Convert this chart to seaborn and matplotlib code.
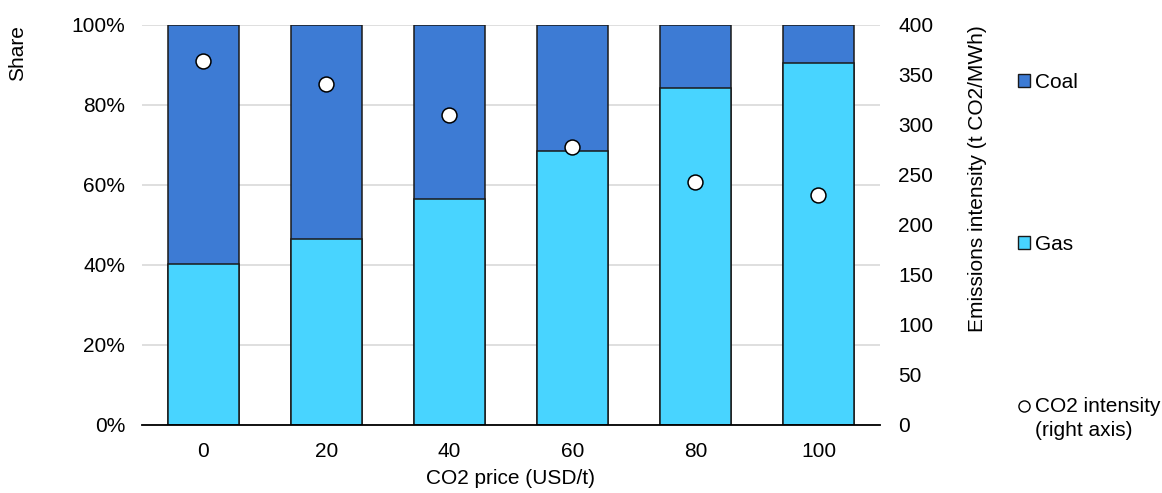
import numpy as np
import pandas as pd
import matplotlib
matplotlib.use("Agg")
import matplotlib.pyplot as plt
import seaborn as sns
from matplotlib.lines import Line2D
from matplotlib.patches import Patch

# ── data ──────────────────────────────────────────────
co2_price = ["0", "20", "40", "60", "80", "100"]
gas_share = [40.2, 46.5, 56.5, 68.6, 84.2, 90.6]
coal_share = [100 - g for g in gas_share]
co2_intensity = [364, 341, 310, 278, 243, 230]

COAL = "#3d7bd4"
GAS = "#48d4ff"
EDGE = "#1a1a1a"
FS = 15

sns.set_theme(style="white")
plt.rcParams["font.family"] = ["Liberation Sans", "DejaVu Sans"]
plt.rcParams["font.size"] = FS

df = pd.DataFrame({"price": co2_price, "gas": gas_share,
                   "total": [g + c for g, c in zip(gas_share, coal_share)],
                   "co2": co2_intensity})

fig = plt.figure(figsize=(11.62, 4.93), dpi=100)
ax = fig.add_axes([0.1222, 0.138, 0.6351, 0.8113])

# stacked bars: full height coal, gas drawn over the bottom part
sns.barplot(data=df, x="price", y="total", color=COAL, width=0.57,
            edgecolor=EDGE, linewidth=1.1, saturation=1, ax=ax)
sns.barplot(data=df, x="price", y="gas", color=GAS, width=0.57,
            edgecolor=EDGE, linewidth=1.1, saturation=1, ax=ax)

ax.set_ylim(0, 100)
ax.set_xlim(-0.5, 5.5)
ax.set_yticks(range(0, 101, 20))
ax.set_yticklabels([f"{v}%" for v in range(0, 101, 20)])
ax.yaxis.grid(True, color="#d9d9d9", linewidth=1.2)
ax.set_axisbelow(True)
for s in ["top", "right", "left"]:
    ax.spines[s].set_visible(False)
ax.spines["bottom"].set_color("black")
ax.spines["bottom"].set_linewidth(1.3)
ax.tick_params(axis="both", length=0, labelsize=FS, colors="black")
ax.tick_params(axis="y", pad=12)
ax.tick_params(axis="x", pad=12)
ax.set_xlabel("CO2 price (USD/t)", fontsize=FS, color="black", labelpad=6)
ax.set_ylabel("Share", fontsize=FS, color="black", loc="top")
ax.yaxis.set_label_coords(-0.156, 1.0)

# right axis: emissions intensity
ax2 = ax.twinx()
sns.scatterplot(data=df, x="price", y="co2", color="white", edgecolor="black",
                linewidth=1.1, s=115, zorder=5, ax=ax2)
ax2.set_ylim(0, 400)
ax2.set_yticks(range(0, 401, 50))
for s in ax2.spines.values():
    s.set_visible(False)
ax2.tick_params(axis="y", length=0, labelsize=FS, colors="black", pad=13)
ax2.set_ylabel("Emissions intensity (t CO2/MWh)", fontsize=FS, color="black",
               loc="top")
ax2.yaxis.set_label_coords(1.119, 1.0)
ax2.set_xlim(-0.5, 5.5)

# legend entries spread down the right side
def add_leg(handle, label, y):
    fig.legend([handle], [label], loc="center left", bbox_to_anchor=(0.876, y),
               frameon=False, fontsize=FS, handlelength=0.6, handleheight=0.6,
               handletextpad=0.2, borderpad=0, borderaxespad=0,
               labelcolor="black")

add_leg(Patch(facecolor=COAL, edgecolor=EDGE, linewidth=1), "Coal", 1 - 82 / 493)
add_leg(Patch(facecolor=GAS, edgecolor=EDGE, linewidth=1), "Gas", 1 - 244 / 493)
add_leg(Line2D([], [], marker="o", linestyle="none", markerfacecolor="white",
               markeredgecolor="black", markersize=8),
        "CO2 intensity", 1 - 407 / 493)
fig.text(1035 / 1162, 1 - 430 / 493, "(right axis)", fontsize=FS,
         ha="left", va="center", color="black")

fig.savefig("out.png", dpi=100)
